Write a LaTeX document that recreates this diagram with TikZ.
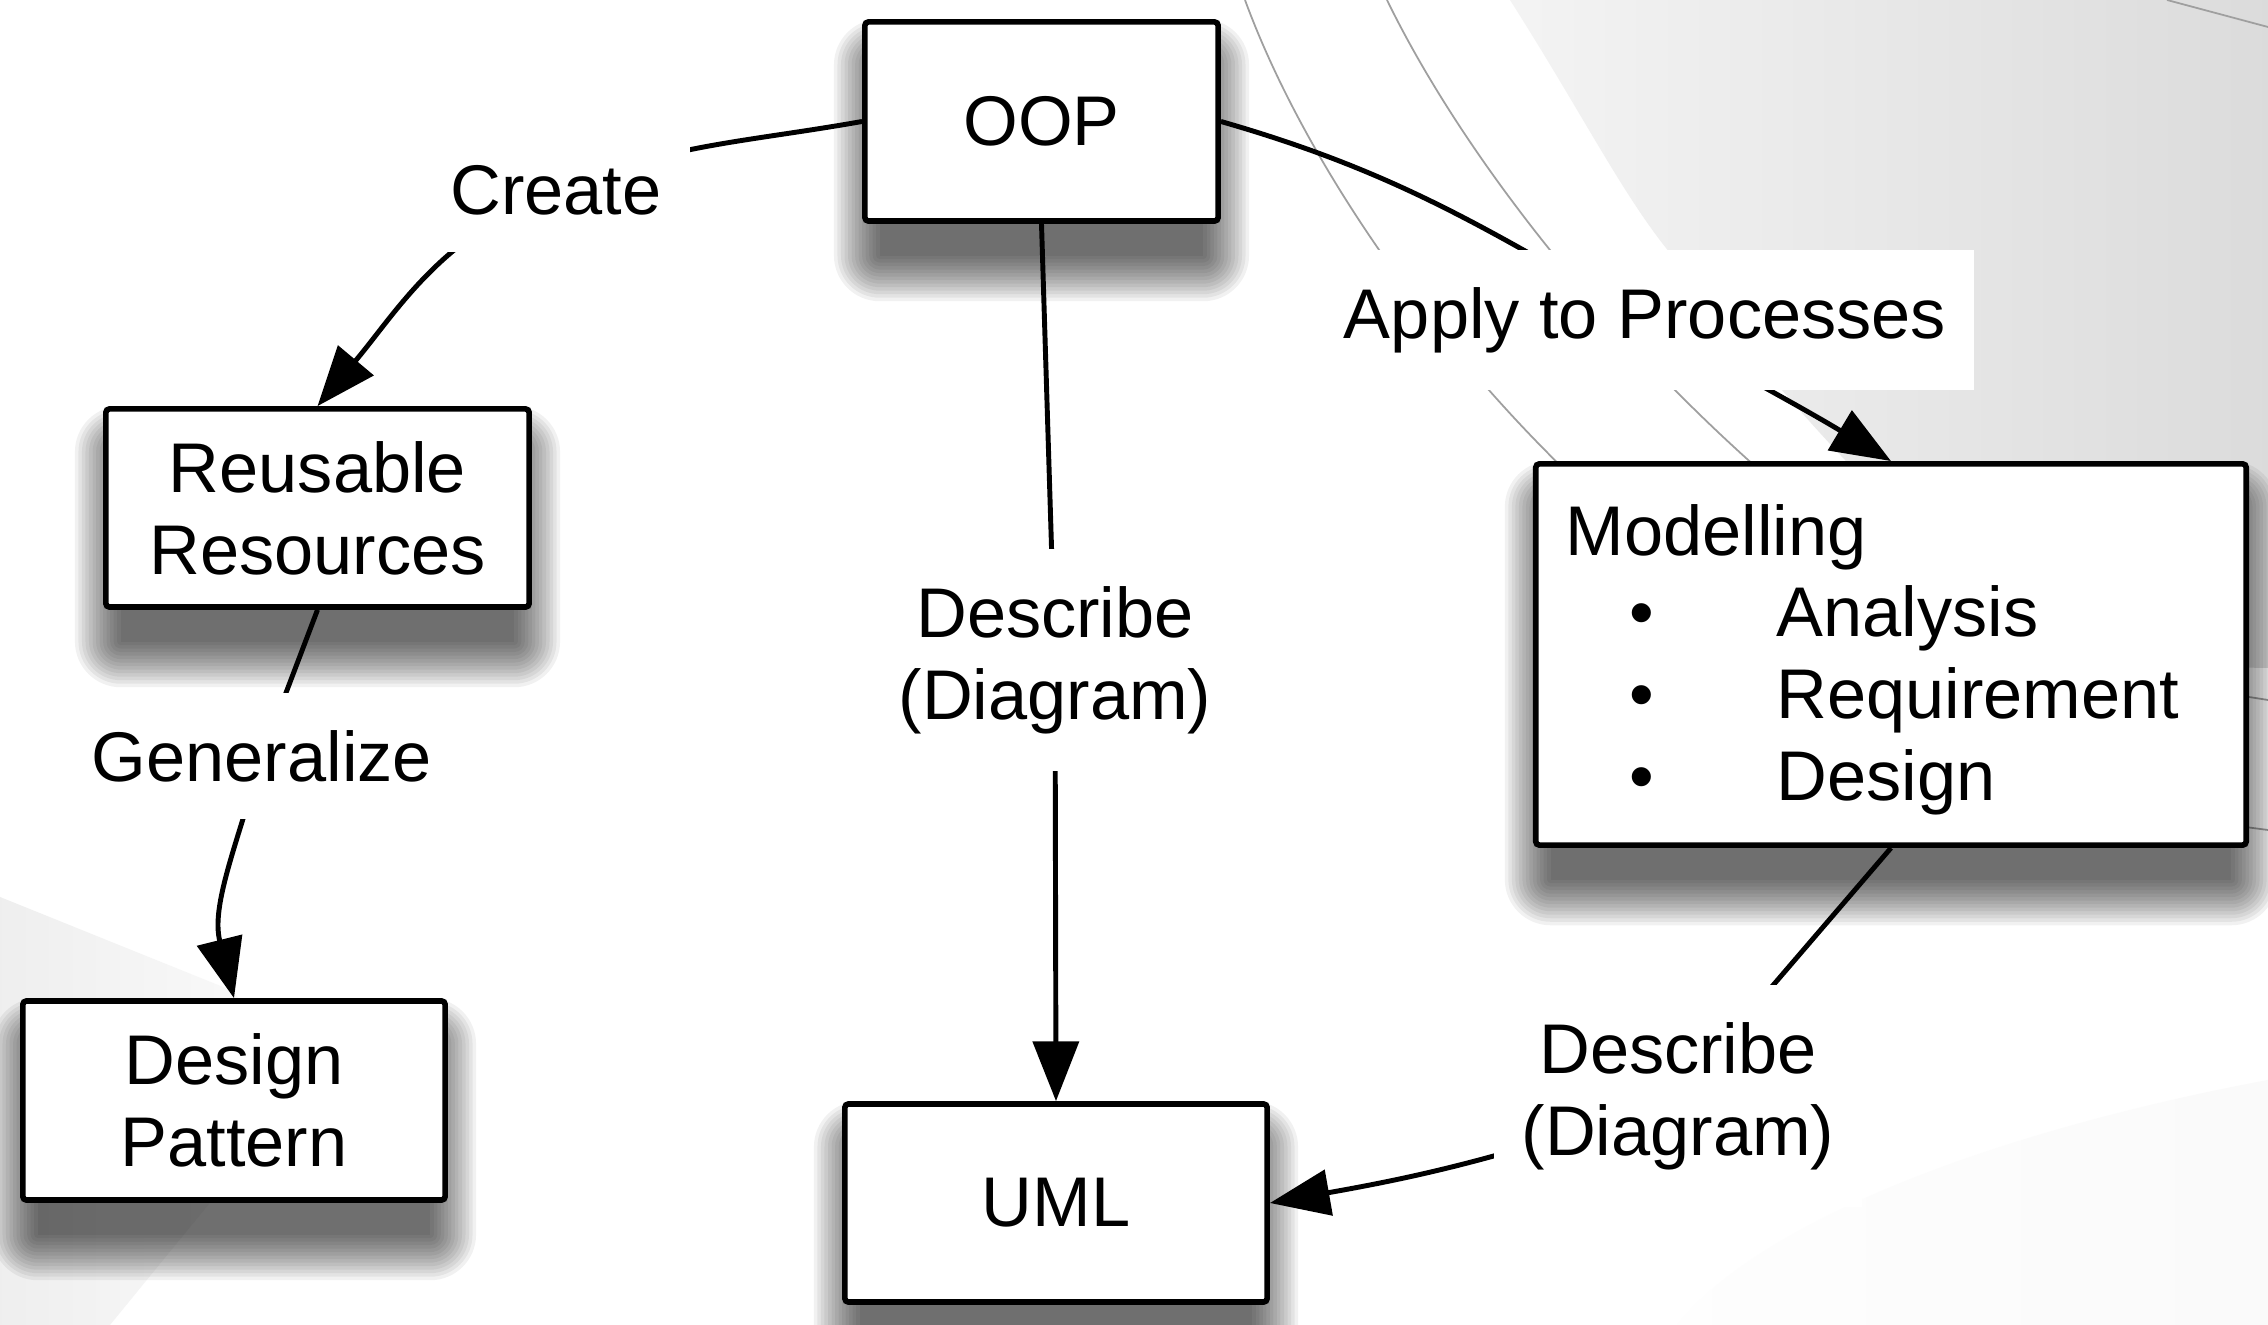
\documentclass[tikz,border=0pt]{standalone}
\usepackage{fontspec}
\setmainfont{Liberation Sans}
\usetikzlibrary{arrows.meta}
\pgfdeclarelayer{bg}
\pgfdeclarelayer{shadowlayer}
\pgfdeclarelayer{edges}
\pgfsetlayers{bg,shadowlayer,edges,main}
\newcommand\bulletitem[1]{\hspace*{18pt}\makebox[42pt][l]{\textbullet}#1}
\newcommand\softshadow[1]{%
  \begin{pgfonlayer}{shadowlayer}
  \foreach \e in {0,1,...,13}{
    \fill[black, opacity=0.055, rounded corners=\e pt]
      ([shift={(5pt-\e pt,-9pt-\e pt)}]#1.south west) rectangle ([shift={(-5pt+\e pt,-13pt+\e pt)}]#1.north east);
  }
  \end{pgfonlayer}}
\begin{document}
\begin{tikzpicture}[x=0.01cm,y=-0.01cm,
  font=\fontsize{20pt}{23.3pt}\selectfont,
  box/.style={draw, line width=1.6pt, fill=white, rounded corners=1pt, align=center, inner sep=0pt},
  lab/.style={fill=white, inner xsep=8pt, inner ysep=10.5pt, align=center},
  conn/.style={line width=1.4pt},
  arr/.style={-{Triangle[length=17pt,width=13pt]}},
  thinline/.style={gray!75, line width=0.5pt}]

\useasboundingbox (0,0) rectangle (2268,1325);

% background
\begin{pgfonlayer}{bg}
\fill[white] (0,0) rectangle (2268,1325);
\shade[left color=gray!9, right color=gray!28]
  (1510,0) .. controls (1580,110) and (1620,190) .. (1666,248)
  .. controls (1760,370) and (1950,600) .. (2100,665)
  -- (2268,668) -- (2268,0) -- cycle;
\shade[left color=gray!13, right color=gray!3]
  (0,897) -- (233,991) -- (300,1080) -- (217,1194) -- (110,1325) -- (0,1325) -- cycle;
\shade[left color=gray!1, right color=gray!4]
  (1677,1325) .. controls (1760,1220) and (2000,1130) .. (2268,1080) -- (2268,1325) -- cycle;
\draw[thinline] (1245,0) .. controls (1300,150) and (1420,330) .. (1570,475);
\draw[thinline] (1387,0) .. controls (1460,150) and (1600,330) .. (1765,475);
\draw[thinline] (2167,0) -- (2268,27);
\draw[thinline] (2230,694) -- (2268,700);
\draw[thinline] (2230,825) -- (2268,830);
\end{pgfonlayer}

% boxes
\node[box, minimum width=3.53cm, minimum height=1.99cm] (oop) at (1041.5,121.5) {OOP};
\node[box, minimum width=4.23cm, minimum height=1.98cm] (reuse) at (317.5,508) {Reusable\\Resources};
\node[box, minimum width=4.22cm, minimum height=1.99cm] (design) at (234,1100.5) {Design\\Pattern};
\node[box, minimum width=4.22cm, minimum height=1.98cm] (uml) at (1056,1203) {UML};
\node[box, minimum width=7.1cm, minimum height=3.81cm, text width=6.5cm, inner xsep=0.3cm, align=left] (model) at (1891,654.5)
  {\rule{0pt}{17.5pt}Modelling\\ \bulletitem{Analysis}\\ \bulletitem{Requirement}\\ \bulletitem{Design}};
\softshadow{oop}
\softshadow{reuse}
\softshadow{design}
\softshadow{uml}
\softshadow{model}

% labels
\node[lab] (create) at (556,190) {Create};
\node[lab] (gen) at (262,756) {Generalize};
\node[lab] (desc1) at (1055,660) {Describe\\(Diagram)};
\node[lab] (apply) at (1645,320) {Apply to Processes};
\node[lab] (desc2) at (1678,1096) {Describe\\(Diagram)};

% connectors
\begin{pgfonlayer}{edges}
\draw[conn] (oop.west) to[out=190,in=22] (create.center);
\draw[conn,arr] (create.center) to[out=202,in=50] (reuse.north);
\draw[conn] (reuse.south) -- (gen.center);
\draw[conn,arr] (gen.center) to[out=254,in=104] (design.north);
\draw[conn] (oop.south) -- (desc1.center);
\draw[conn,arr] (desc1.center) -- (uml.north);
\draw[conn] (oop.east) to[out=-16,in=150] (apply.center);
\draw[conn,arr] (apply.center) to[out=-30,in=149] (model.north);
\draw[conn] (model.south) -- (desc2.center);
\draw[conn,arr] (desc2.center) to[out=200,in=10] (uml.east);
\end{pgfonlayer}
\end{tikzpicture}
\end{document}
